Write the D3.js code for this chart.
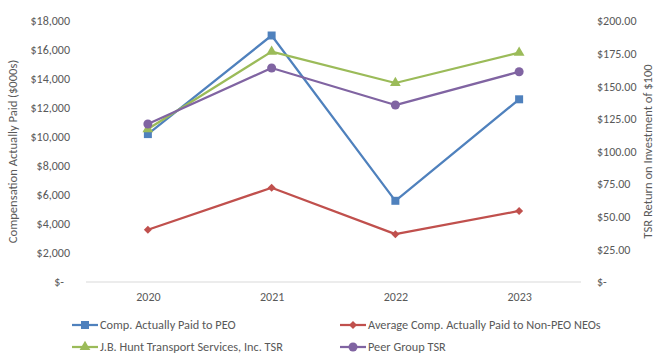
<!DOCTYPE html>
<html>
<head>
<meta charset="utf-8">
<script src="https://cdn.jsdelivr.net/npm/d3@7"></script>
<style>
  html, body { margin: 0; padding: 0; background: #fff; }
  svg { display: block; }
  text { font-family: Carlito, "Liberation Sans Narrow", "Liberation Sans", Arial, sans-serif; fill: #595959; }
</style>
</head>
<body>
<div id="chart"></div>
<script>
// Fiscal years on the category axis
const years = ["2020", "2021", "2022", "2023"];

// Compensation actually paid ($000s), left axis
const peoComp = [10200, 17000, 5600, 12600];
const neoComp = [3600, 6500, 3300, 4900];

// Value of an initial $100 investment, right axis
const jbhtTsr = [117.2, 176.5, 152.5, 175.7];
const peerTsr = [121.1, 164.0, 135.6, 161.1];

// Axis tick values and their labels
const leftTicks = [0, 2000, 4000, 6000, 8000, 10000, 12000, 14000, 16000, 18000];
const leftTickLabels = ["$-", "$2,000", "$4,000", "$6,000", "$8,000", "$10,000", "$12,000", "$14,000", "$16,000", "$18,000"];
const rightTicks = [0, 25, 50, 75, 100, 125, 150, 175, 200];
const rightTickLabels = ["$-", "$25.00", "$50.00", "$75.00", "$100.00", "$125.00", "$150.00", "$175.00", "$200.00"];

const width = 657, height = 354;
const plot = { left: 86, right: 581, top: 21, bottom: 282 };

const svg = d3.select("#chart").append("svg")
  .attr("width", width).attr("height", height);

const x = d3.scalePoint().domain(years).range([plot.left, plot.right]).padding(0.5);
const yLeft = d3.scaleLinear().domain([0, 18000]).range([plot.bottom, plot.top]);
const yRight = d3.scaleLinear().domain([0, 200]).range([plot.bottom, plot.top]);

// Category axis: baseline only, labels below
const xAxis = d3.axisBottom(x).tickSize(0).tickPadding(10);
const gx = svg.append("g").attr("transform", `translate(0,${plot.bottom})`).call(xAxis);
gx.select(".domain").attr("stroke", "#d9d9d9").attr("stroke-width", 1)
  .attr("d", `M${plot.left},0H${plot.right}`);
gx.selectAll("text").attr("font-size", 12).style("fill", "#595959");

// Left value axis (labels only); the zero label sits a little left, accounting style
const gl = svg.append("g").attr("transform", `translate(${plot.left},0)`)
  .call(d3.axisLeft(yLeft).tickValues(leftTicks).tickSize(0).tickPadding(16)
    .tickFormat((d, i) => leftTickLabels[i]));
gl.select(".domain").remove();
gl.selectAll("text").attr("font-size", 12).style("fill", "#595959")
  .attr("dx", d => d === 0 ? -6 : 0);

// Right value axis (labels only)
const gr = svg.append("g").attr("transform", `translate(${plot.right},0)`)
  .call(d3.axisRight(yRight).tickValues(rightTicks).tickSize(0).tickPadding(16)
    .tickFormat((d, i) => rightTickLabels[i]));
gr.select(".domain").remove();
gr.selectAll("text").attr("font-size", 12).style("fill", "#595959");

// Axis titles
svg.append("text")
  .attr("transform", `translate(17,${(plot.top + plot.bottom) / 2}) rotate(-90)`)
  .attr("text-anchor", "middle").attr("font-size", 12.6)
  .text("Compensation Actually Paid ($000s)");
svg.append("text")
  .attr("transform", `translate(652,${(plot.top + plot.bottom) / 2}) rotate(-90)`)
  .attr("text-anchor", "middle").attr("font-size", 12.6)
  .text("TSR Return on Investment of $100");

// Diamond marker: a square turned 45 degrees
const squareDiamond = {
  draw(ctx, size) {
    const r = Math.sqrt(size / 2);
    ctx.moveTo(0, -r); ctx.lineTo(r, 0); ctx.lineTo(0, r); ctx.lineTo(-r, 0); ctx.closePath();
  }
};

const series = [
  { name: "Comp. Actually Paid to PEO", values: peoComp, y: yLeft, color: "#4F81BD", symbol: d3.symbolSquare, size: 64 },
  { name: "Average Comp. Actually Paid to Non-PEO NEOs", values: neoComp, y: yLeft, color: "#C0504D", symbol: squareDiamond, size: 32 },
  { name: "J.B. Hunt Transport Services, Inc. TSR", values: jbhtTsr, y: yRight, color: "#9BBB59", symbol: d3.symbolTriangle, size: 50 },
  { name: "Peer Group TSR", values: peerTsr, y: yRight, color: "#8064A2", symbol: d3.symbolCircle, size: 64 }
];

series.forEach(s => {
  const line = d3.line().x((d, i) => x(years[i])).y(d => s.y(d));
  svg.append("path").datum(s.values)
    .attr("fill", "none").attr("stroke", s.color).attr("stroke-width", 2.25)
    .attr("stroke-linejoin", "round").attr("d", line);
  svg.append("g").selectAll("path").data(s.values).join("path")
    .attr("transform", (d, i) => `translate(${x(years[i])},${s.y(d)})`)
    .attr("d", d3.symbol(s.symbol, s.size))
    .attr("fill", s.color);
});

// Legend in two rows of two
const legendCols = [72, 340];
const legendRows = [325, 347];
series.forEach((s, i) => {
  const lx = legendCols[i % 2], ly = legendRows[Math.floor(i / 2)];
  const g = svg.append("g").attr("transform", `translate(${lx},${ly})`);
  g.append("line").attr("x1", 0).attr("x2", 26).attr("y1", 0).attr("y2", 0)
    .attr("stroke", s.color).attr("stroke-width", 2.25);
  g.append("path").attr("transform", "translate(13,0)")
    .attr("d", d3.symbol(s.symbol, s.size)).attr("fill", s.color);
  g.append("text").attr("x", 28).attr("y", 0).attr("dy", "0.35em")
    .attr("font-size", 12.3).text(s.name);
});
</script>
</body>
</html>
